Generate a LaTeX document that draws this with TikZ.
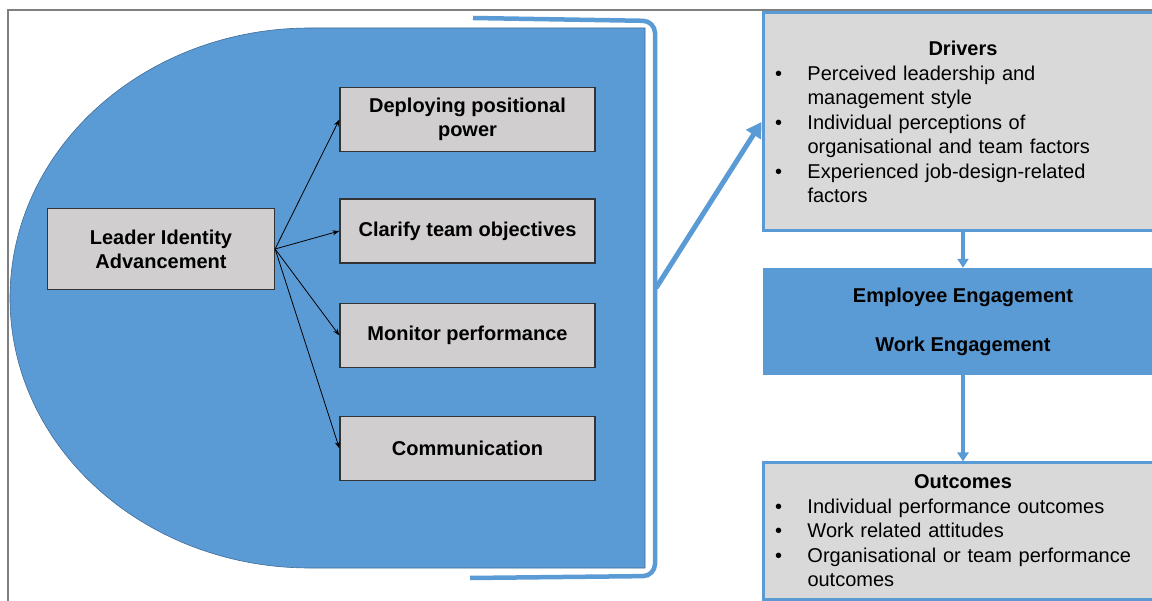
\documentclass[tikz,border=0pt]{standalone}
\usepackage{fontspec}
\setmainfont{Liberation Sans}
\usetikzlibrary{arrows.meta,positioning}

\definecolor{shapeblue}{HTML}{5B9BD5}
\definecolor{boxgray}{HTML}{D0CECE}
\definecolor{panelgray}{HTML}{D9D9D9}
\definecolor{framegray}{HTML}{7F7F7F}

% bullet line and its hanging continuation
\newcommand{\bpoint}[1]{\makebox[32.5pt][l]{\textbullet}#1}
\newcommand{\bcont}[1]{\hspace*{32.5pt}#1}

\begin{document}
\begin{tikzpicture}[x=1pt, y=-1pt,
  every node/.style={font=\fontsize{20}{24.5}\selectfont},
  act/.style={rectangle, draw=black!80, line width=1.2pt, fill=boxgray, minimum width=255pt, minimum height=64pt, align=center, font=\fontsize{20}{24}\selectfont\bfseries},
  panel/.style={rectangle, draw=shapeblue, line width=3pt, fill=panelgray, minimum width=400pt, text width=376pt, align=left},
  flow/.style={-{Triangle[length=9pt,width=11pt]}, draw=shapeblue, line width=3.2pt},
  link/.style={-{Stealth[length=7pt,width=5pt]}, line width=0.8pt}]
\useasboundingbox (0,0) rectangle (1152,601);

% outer frame
\draw[framegray, line width=1.5pt] (8,10) rectangle (1200,650);

% blue half-round area and the bracket round it
\draw[fill=shapeblue, draw=shapeblue!70!black, line width=0.6pt] (645,28) -- (310,28) arc[start angle=270, end angle=90, x radius=300, y radius=270] -- (645,568) -- cycle;
\draw[shapeblue, line width=4.5pt, rounded corners=12pt] (473,18) -- (655,21) -- (655,576) -- (470,578);
\coordinate (brk) at (656,288);

% left side
\node[act, minimum width=227pt, minimum height=81pt] (lead) at (161,249) {Leader Identity\\Advancement};
\node[act] (deploy) at (467.5,119.5) {Deploying positional\\power};
\node[act] (clarify) at (467.5,231) {Clarify team objectives};
\node[act] (monitor) at (467.5,335.5) {Monitor performance};
\node[act] (comm) at (467.5,448.5) {Communication};

\draw[link] (lead.east) -- (deploy.west);
\draw[link] (lead.east) -- (clarify.west);
\draw[link] (lead.east) -- (monitor.west);
\draw[link] (lead.east) -- (comm.west);

% right side
\node[panel, minimum height=218pt] (drivers) at (963,122) {\makebox[\linewidth]{\bfseries Drivers}\\
\bpoint{Perceived leadership and}\\
\bcont{management style}\\
\bpoint{Individual perceptions of}\\
\bcont{organisational and team factors}\\
\bpoint{Experienced job-design-related}\\
\bcont{factors}};

\node[rectangle, fill=shapeblue, minimum width=400pt, minimum height=107pt, align=center, font=\fontsize{20}{24.5}\selectfont\bfseries] (engage) at (963,321.5) {Employee Engagement\\[24.5pt]Work Engagement};

\node[panel, minimum height=136pt] (outcomes) at (963,531) {\makebox[\linewidth]{\bfseries Outcomes}\\
\bpoint{Individual performance outcomes}\\
\bpoint{Work related attitudes}\\
\bpoint{Organisational or team performance}\\
\bcont{outcomes}};

\draw[flow, line width=5pt, -{Triangle[length=15pt,width=17pt]}] (brk) -- (drivers.west);
\draw[flow] (drivers.south) -- (engage.north);
\draw[flow] (engage.south) -- (outcomes.north);
\end{tikzpicture}
\end{document}
